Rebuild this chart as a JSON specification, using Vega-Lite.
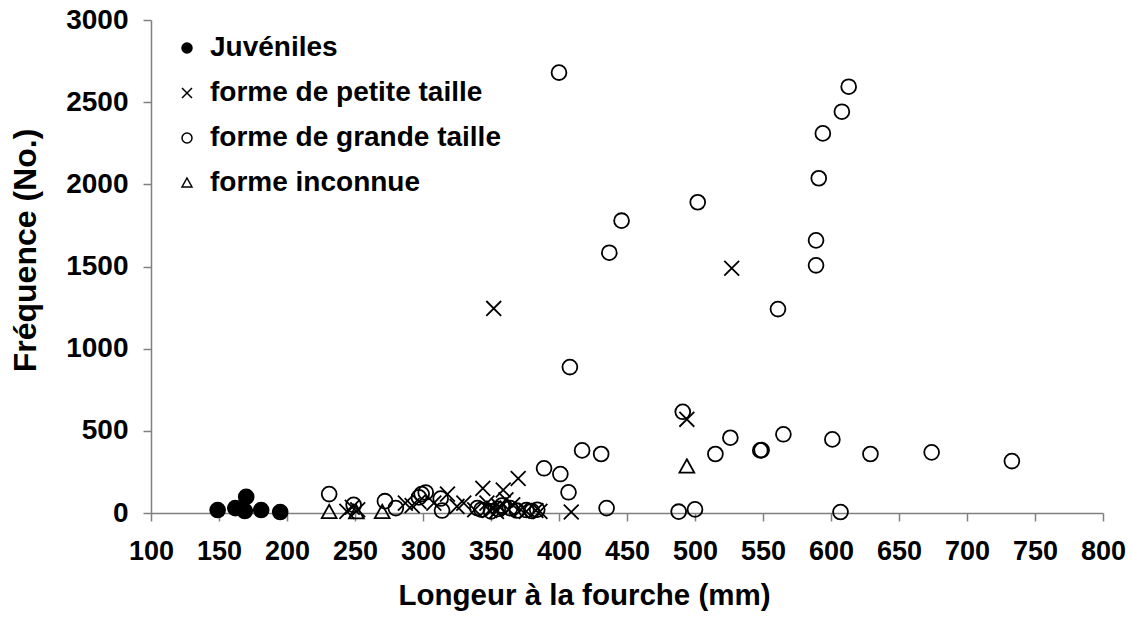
{
  "$schema": "https://vega.github.io/schema/vega-lite/v6.json",
  "autosize": {"type": "none"},
  "padding": {"left": 151, "top": 20, "right": 29, "bottom": 117},
  "width": 952,
  "height": 493,
  "background": "white",
  "config": {
    "view": {"stroke": null},
    "font": "Liberation Sans",
    "legend": {"padding": 0}
  },
  "data": {
    "values": [
      {"mm": 149, "freq": 18, "type": "Juvéniles"},
      {"mm": 162, "freq": 30, "type": "Juvéniles"},
      {"mm": 169, "freq": 12, "type": "Juvéniles"},
      {"mm": 170, "freq": 98, "type": "Juvéniles"},
      {"mm": 181, "freq": 18, "type": "Juvéniles"},
      {"mm": 195, "freq": 6, "type": "Juvéniles"},

      {"mm": 244, "freq": 10, "type": "forme de petite taille"},
      {"mm": 248, "freq": 35, "type": "forme de petite taille"},
      {"mm": 252, "freq": 20, "type": "forme de petite taille"},
      {"mm": 287, "freq": 60, "type": "forme de petite taille"},
      {"mm": 292, "freq": 45, "type": "forme de petite taille"},
      {"mm": 297, "freq": 70, "type": "forme de petite taille"},
      {"mm": 308, "freq": 60, "type": "forme de petite taille"},
      {"mm": 318, "freq": 115, "type": "forme de petite taille"},
      {"mm": 325, "freq": 40, "type": "forme de petite taille"},
      {"mm": 330, "freq": 60, "type": "forme de petite taille"},
      {"mm": 338, "freq": 20, "type": "forme de petite taille"},
      {"mm": 344, "freq": 150, "type": "forme de petite taille"},
      {"mm": 347, "freq": 60, "type": "forme de petite taille"},
      {"mm": 349, "freq": 15, "type": "forme de petite taille"},
      {"mm": 352, "freq": 30, "type": "forme de petite taille"},
      {"mm": 354, "freq": 10, "type": "forme de petite taille"},
      {"mm": 356, "freq": 40, "type": "forme de petite taille"},
      {"mm": 359, "freq": 140, "type": "forme de petite taille"},
      {"mm": 361, "freq": 80, "type": "forme de petite taille"},
      {"mm": 363, "freq": 20, "type": "forme de petite taille"},
      {"mm": 366, "freq": 50, "type": "forme de petite taille"},
      {"mm": 370, "freq": 210, "type": "forme de petite taille"},
      {"mm": 372, "freq": 20, "type": "forme de petite taille"},
      {"mm": 376, "freq": 10, "type": "forme de petite taille"},
      {"mm": 383, "freq": 15, "type": "forme de petite taille"},
      {"mm": 386, "freq": 10, "type": "forme de petite taille"},
      {"mm": 352, "freq": 1245, "type": "forme de petite taille"},
      {"mm": 409, "freq": 6, "type": "forme de petite taille"},
      {"mm": 494, "freq": 570, "type": "forme de petite taille"},
      {"mm": 527, "freq": 1489, "type": "forme de petite taille"},

      {"mm": 231, "freq": 115, "type": "forme de grande taille"},
      {"mm": 249, "freq": 50, "type": "forme de grande taille"},
      {"mm": 272, "freq": 72, "type": "forme de grande taille"},
      {"mm": 280, "freq": 30, "type": "forme de grande taille"},
      {"mm": 297, "freq": 95, "type": "forme de grande taille"},
      {"mm": 299, "freq": 115, "type": "forme de grande taille"},
      {"mm": 302, "freq": 125, "type": "forme de grande taille"},
      {"mm": 313, "freq": 88, "type": "forme de grande taille"},
      {"mm": 314, "freq": 15, "type": "forme de grande taille"},
      {"mm": 340, "freq": 30, "type": "forme de grande taille"},
      {"mm": 343, "freq": 20, "type": "forme de grande taille"},
      {"mm": 350, "freq": 10, "type": "forme de grande taille"},
      {"mm": 355, "freq": 25, "type": "forme de grande taille"},
      {"mm": 358, "freq": 45, "type": "forme de grande taille"},
      {"mm": 364, "freq": 30, "type": "forme de grande taille"},
      {"mm": 369, "freq": 15, "type": "forme de grande taille"},
      {"mm": 376, "freq": 18, "type": "forme de grande taille"},
      {"mm": 380, "freq": 12, "type": "forme de grande taille"},
      {"mm": 384, "freq": 20, "type": "forme de grande taille"},
      {"mm": 389, "freq": 272, "type": "forme de grande taille"},
      {"mm": 400, "freq": 2680, "type": "forme de grande taille"},
      {"mm": 401, "freq": 237, "type": "forme de grande taille"},
      {"mm": 407, "freq": 126, "type": "forme de grande taille"},
      {"mm": 408, "freq": 888, "type": "forme de grande taille"},
      {"mm": 417, "freq": 381, "type": "forme de grande taille"},
      {"mm": 431, "freq": 359, "type": "forme de grande taille"},
      {"mm": 435, "freq": 30, "type": "forme de grande taille"},
      {"mm": 437, "freq": 1584, "type": "forme de grande taille"},
      {"mm": 446, "freq": 1779, "type": "forme de grande taille"},
      {"mm": 488, "freq": 8, "type": "forme de grande taille"},
      {"mm": 491, "freq": 616, "type": "forme de grande taille"},
      {"mm": 500, "freq": 22, "type": "forme de grande taille"},
      {"mm": 502, "freq": 1891, "type": "forme de grande taille"},
      {"mm": 515, "freq": 359, "type": "forme de grande taille"},
      {"mm": 526, "freq": 458, "type": "forme de grande taille"},
      {"mm": 548, "freq": 381, "type": "forme de grande taille"},
      {"mm": 549, "freq": 383, "type": "forme de grande taille"},
      {"mm": 561, "freq": 1241, "type": "forme de grande taille"},
      {"mm": 565, "freq": 479, "type": "forme de grande taille"},
      {"mm": 589, "freq": 1659, "type": "forme de grande taille"},
      {"mm": 589, "freq": 1507, "type": "forme de grande taille"},
      {"mm": 591, "freq": 2037, "type": "forme de grande taille"},
      {"mm": 594, "freq": 2310, "type": "forme de grande taille"},
      {"mm": 601, "freq": 448, "type": "forme de grande taille"},
      {"mm": 607, "freq": 6, "type": "forme de grande taille"},
      {"mm": 608, "freq": 2442, "type": "forme de grande taille"},
      {"mm": 613, "freq": 2594, "type": "forme de grande taille"},
      {"mm": 629, "freq": 359, "type": "forme de grande taille"},
      {"mm": 674, "freq": 369, "type": "forme de grande taille"},
      {"mm": 733, "freq": 316, "type": "forme de grande taille"},

      {"mm": 231, "freq": 5, "type": "forme inconnue"},
      {"mm": 251, "freq": 3, "type": "forme inconnue"},
      {"mm": 270, "freq": 5, "type": "forme inconnue"},
      {"mm": 494, "freq": 282, "type": "forme inconnue"}
    ]
  },
  "mark": {"type": "point", "filled": false, "stroke": "black", "strokeWidth": 1.8, "opacity": 1, "size": 220},
  "encoding": {
    "x": {
      "field": "mm", "type": "quantitative",
      "scale": {"domain": [100, 800], "nice": false, "zero": false},
      "axis": {
        "values": [100, 150, 200, 250, 300, 350, 400, 450, 500, 550, 600, 650, 700, 750, 800],
        "grid": false,
        "title": "Longeur à la fourche (mm)",
        "titleFont": "Liberation Sans", "titleFontSize": 29.5, "titleFontWeight": "bold", "titleColor": "black",
        "titlePadding": 17,
        "titleX": 433,
        "titleAlign": "center",
        "labelFont": "Liberation Sans", "labelFontSize": 27, "labelFontWeight": "bold", "labelColor": "black",
        "labelPadding": 17,
        "domainColor": "#808080", "domainWidth": 1.5,
        "tickColor": "#808080", "tickWidth": 1.5, "tickSize": 8,
        "labelOverlap": false, "labelFlush": false
      }
    },
    "y": {
      "field": "freq", "type": "quantitative",
      "scale": {"domain": [0, 3000], "nice": false},
      "axis": {
        "values": [0, 500, 1000, 1500, 2000, 2500, 3000],
        "format": "d",
        "grid": false,
        "title": "Fréquence (No.)",
        "titleFont": "Liberation Sans", "titleFontSize": 32, "titleFontWeight": "bold", "titleColor": "black",
        "titlePadding": 23,
        "titleY": 230,
        "titleAlign": "center",
        "labelFont": "Liberation Sans", "labelFontSize": 28, "labelFontWeight": "bold", "labelColor": "black",
        "labelPadding": 15,
        "domainColor": "#808080", "domainWidth": 1.5,
        "tickColor": "#808080", "tickWidth": 1.5, "tickSize": 8,
        "labelOverlap": false, "labelFlush": false
      }
    },
    "shape": {
      "field": "type", "type": "nominal",
      "scale": {
        "domain": ["Juvéniles", "forme de petite taille", "forme de grande taille", "forme inconnue"],
        "range": ["circle", "M-1,-1L1,1M-1,1L1,-1", "circle", "M0,-1L1,0.8L-1,0.8Z"]
      },
      "legend": {
        "title": null,
        "orient": "none",
        "legendX": 22,
        "legendY": 14,
        "labelFont": "Liberation Sans", "labelFontSize": 28, "labelFontWeight": "bold", "labelColor": "black",
        "labelOffset": 9,
        "symbolSize": 100,
        "rowPadding": 17,
        "labelLimit": 600,
        "encode": {
          "symbols": {
            "enter": {
              "size": {"signal": "datum.value === 'forme inconnue' ? 380 : 100"}
            },
            "update": {
              "stroke": {"value": "black"},
              "strokeWidth": {"value": 1.5},
              "size": {"signal": "datum.value === 'forme inconnue' ? 380 : 100"}
            }
          }
        }
      }
    },
    "fill": {
      "field": "type", "type": "nominal",
      "scale": {
        "domain": ["Juvéniles", "forme de petite taille", "forme de grande taille", "forme inconnue"],
        "range": ["black", "transparent", "transparent", "transparent"]
      },
      "legend": {
        "title": null,
        "orient": "none",
        "legendX": 22,
        "legendY": 14,
        "labelFont": "Liberation Sans", "labelFontSize": 28, "labelFontWeight": "bold", "labelColor": "black",
        "labelOffset": 9,
        "symbolSize": 100,
        "rowPadding": 17,
        "labelLimit": 600,
        "encode": {
          "symbols": {
            "enter": {
              "size": {"signal": "datum.value === 'forme inconnue' ? 380 : 100"}
            },
            "update": {
              "stroke": {"value": "black"},
              "strokeWidth": {"value": 1.5},
              "size": {"signal": "datum.value === 'forme inconnue' ? 380 : 100"}
            }
          }
        }
      }
    }
  }
}
